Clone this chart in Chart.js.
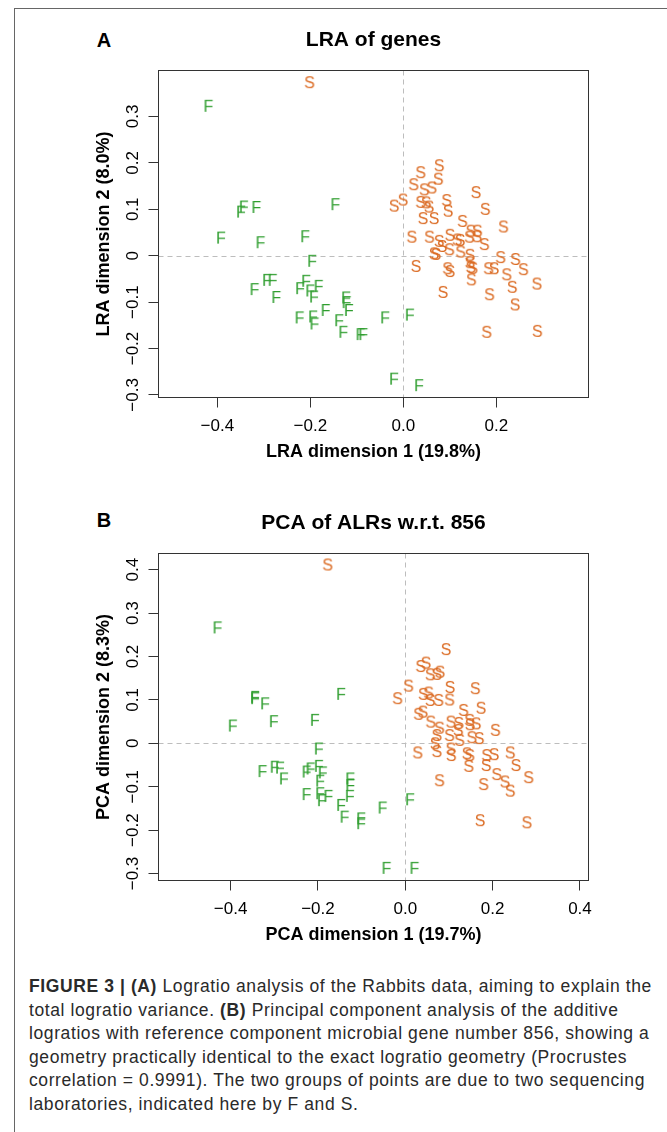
<!DOCTYPE html>
<html>
<head>
<meta charset="utf-8">
<title>Figure 3 - LRA and PCA of the Rabbits data</title>
<script src="https://cdn.jsdelivr.net/npm/chart.js@4.4.1/dist/chart.umd.min.js"></script>
<style>
  body { margin: 0; background: #fff; }
  #page { position: relative; width: 667px; height: 1132px; overflow: hidden; font-family: "Liberation Sans", Arial, sans-serif; }
  #frame { position: absolute; left: 14px; top: 8px; width: 800px; height: 1300px; border-left: 1px solid #666; border-top: 1px solid #666; }
  .panel { position: absolute; left: 0; }
  .tag { position: absolute; left: 104px; transform: translate(-50%, -50%); font-weight: bold; font-size: 20px; color: #000; }
  #caption { position: absolute; left: 29px; top: 975px; font-size: 17.5px; letter-spacing: 0.6px; line-height: 23.6px; color: #2a2a2a; white-space: nowrap; }
</style>
</head>
<body>
<div id="page">
  <div id="frame"></div>
  <div class="tag" style="top:40px">A</div>
  <div class="tag" style="top:520px">B</div>
  <canvas id="lra" class="panel" style="top:0" width="667" height="470"></canvas>
  <canvas id="pca" class="panel" style="top:483px" width="667" height="470"></canvas>
  <div id="caption">
    <b>FIGURE 3 | (A)</b> Logratio analysis of the Rabbits data, aiming to explain the<br>
    total logratio variance. <b>(B)</b> Principal component analysis of the additive<br>
    logratios with reference component microbial gene number 856, showing a<br>
    geometry practically identical to the exact logratio geometry (Procrustes<br>
    correlation = 0.9991). The two groups of points are due to two sequencing<br>
    laboratories, indicated here by F and S.
  </div>
</div>

<script>
// ---- data ----
// panel A: LRA of genes, lab F
const lraFx = [-0.419, -0.343, -0.349, -0.316, -0.146, -0.392, -0.307, -0.211, -0.196, -0.293, -0.281,
  -0.320, -0.273, -0.209, -0.222, -0.200, -0.182, -0.192, -0.123, -0.122, -0.117, -0.167, -0.223,
  -0.194, -0.191, -0.138, -0.129, -0.092, -0.086, -0.039, 0.014, -0.020, 0.034];
const lraFy = [0.323, 0.106, 0.095, 0.105, 0.111, 0.039, 0.029, 0.042, -0.011, -0.052, -0.052,
  -0.072, -0.089, -0.054, -0.070, -0.075, -0.065, -0.088, -0.090, -0.100, -0.117, -0.117, -0.133,
  -0.131, -0.146, -0.139, -0.164, -0.169, -0.169, -0.133, -0.127, -0.265, -0.279];
// panel A: lab S
const lraSx = [-0.202, 0.077, 0.037, 0.075, 0.022, 0.045, 0.061, 0.156, -0.020, -0.001, 0.037, 0.049,
  0.055, 0.093, 0.096, 0.176, 0.042, 0.066, 0.127, 0.215, 0.018, 0.056, 0.077, 0.100, 0.116, 0.122,
  0.145, 0.159, 0.142, 0.158, 0.174, 0.083, 0.066, 0.070, 0.099, 0.123, 0.143, 0.027, 0.095, 0.100,
  0.143, 0.145, 0.149, 0.209, 0.241, 0.258, 0.183, 0.195, 0.222, 0.146, 0.234, 0.287, 0.085, 0.185,
  0.240, 0.179, 0.288];
const lraSy = [0.374, 0.195, 0.180, 0.166, 0.154, 0.143, 0.147, 0.137, 0.108, 0.121, 0.116, 0.115,
  0.106, 0.120, 0.097, 0.101, 0.081, 0.081, 0.075, 0.063, 0.041, 0.041, 0.032, 0.045, 0.035, 0.034,
  0.054, 0.054, 0.041, 0.042, 0.025, 0.021, 0.005, 0.004, 0.014, 0.009, 0.002, -0.022, -0.027, -0.033,
  -0.014, -0.024, -0.026, -0.003, -0.007, -0.029, -0.027, -0.027, -0.040, -0.051, -0.067, -0.060, -0.078, -0.083,
  -0.105, -0.164, -0.162];

// panel B: PCA of ALRs, lab F
const pcaFx = [-0.430, -0.344, -0.344, -0.321, -0.147, -0.395, -0.301, -0.207, -0.198, -0.327, -0.299,
  -0.287, -0.278, -0.226, -0.217, -0.198, -0.189, -0.195, -0.126, -0.126, -0.127, -0.226, -0.195,
  -0.191, -0.176, -0.147, -0.139, -0.101, -0.101, -0.052, 0.011, -0.043, 0.021];
const pcaFy = [0.267, 0.107, 0.104, 0.092, 0.114, 0.041, 0.051, 0.054, -0.012, -0.064, -0.054,
  -0.056, -0.081, -0.065, -0.058, -0.052, -0.067, -0.086, -0.081, -0.096, -0.121, -0.117, -0.115,
  -0.131, -0.121, -0.142, -0.169, -0.173, -0.184, -0.148, -0.129, -0.287, -0.287];
// panel B: lab S
const pcaSx = [-0.178, 0.093, 0.035, 0.047, 0.057, 0.072, 0.079, 0.007, -0.018, 0.041, 0.053, 0.057,
  0.076, 0.102, 0.101, 0.160, 0.173, 0.030, 0.040, 0.058, 0.078, 0.104, 0.122, 0.133, 0.147, 0.148,
  0.162, 0.206, 0.072, 0.101, 0.121, 0.152, 0.169, 0.124, 0.068, 0.072, 0.104, 0.105, 0.028, 0.141,
  0.147, 0.145, 0.186, 0.203, 0.185, 0.240, 0.253, 0.209, 0.228, 0.240, 0.282, 0.078, 0.179, 0.171,
  0.278];
const pcaSy = [0.412, 0.217, 0.178, 0.186, 0.159, 0.160, 0.165, 0.133, 0.104, 0.114, 0.117, 0.100,
  0.100, 0.130, 0.101, 0.127, 0.082, 0.068, 0.073, 0.050, 0.036, 0.050, 0.047, 0.077, 0.054, 0.044,
  0.046, 0.031, 0.019, 0.019, 0.031, 0.014, 0.012, 0.008, 0.000, -0.018, -0.012, -0.027, -0.021, -0.023,
  -0.027, -0.052, -0.027, -0.025, -0.050, -0.021, -0.050, -0.071, -0.088, -0.109, -0.078, -0.085, -0.094, -0.177,
  -0.182];

// axis ticks
const lraXTicks = [-0.4, -0.2, 0, 0.2];
const lraXLabels = ['\u22120.4', '\u22120.2', '0.0', '0.2'];
const lraYTicks = [-0.3, -0.2, -0.1, 0, 0.1, 0.2, 0.3];
const lraYLabels = ['\u22120.3', '\u22120.2', '\u22120.1', '0', '0.1', '0.2', '0.3'];
const pcaXTicks = [-0.4, -0.2, 0, 0.2, 0.4];
const pcaXLabels = ['\u22120.4', '\u22120.2', '0.0', '0.2', '0.4'];
const pcaYTicks = [-0.3, -0.2, -0.1, 0, 0.1, 0.2, 0.3, 0.4];
const pcaYLabels = ['\u22120.3', '\u22120.2', '\u22120.1', '0', '0.1', '0.2', '0.3', '0.4'];

// axis limits (plot region of each panel)
const lraXRange = [-0.5265, 0.3983];
const lraYRange = [-0.3056, 0.3991];
const pcaXRange = [-0.5651, 0.4195];
const pcaYRange = [-0.3161, 0.4373];

const FONT = '"Liberation Sans", Arial, sans-serif';
const GREEN = '#2f9e2f';
const ORANGE = '#db6a22';

// letters used as plotting symbols
function letterSprite(ch, color) {
    const c = document.createElement('canvas');
    c.width = 16;
    c.height = 18;
    const g = c.getContext('2d');
    g.font = '16px ' + FONT;
    g.fillStyle = color;
    g.textAlign = 'center';
    g.textBaseline = 'alphabetic';
    g.fillText(ch, 8, 9 + 5.7);
    return c;
}

const zipPoints = (xs, ys) => xs.map((x, i) => ({ x: x, y: ys[i] }));

// dashed lines through the origin
const zeroLines = {
    id: 'zeroLines',
    beforeDatasetsDraw(chart) {
        const { ctx, chartArea: a, scales: { x, y } } = chart;
        const px = Math.round(x.getPixelForValue(0)) + 0.5;
        const py = Math.round(y.getPixelForValue(0)) + 0.5;
        ctx.save();
        ctx.strokeStyle = '#bdbdbd';
        ctx.lineWidth = 1;
        ctx.setLineDash([5, 4]);
        ctx.beginPath();
        ctx.moveTo(px, a.top);
        ctx.lineTo(px, a.bottom);
        ctx.moveTo(a.left, py);
        ctx.lineTo(a.right, py);
        ctx.stroke();
        ctx.restore();
    }
};

// box round the plot region, like R's box()
const plotBox = {
    id: 'plotBox',
    afterDraw(chart) {
        const { ctx, chartArea: a } = chart;
        ctx.save();
        ctx.strokeStyle = '#333';
        ctx.lineWidth = 1;
        ctx.strokeRect(a.left, a.top, a.right - a.left, a.bottom - a.top);
        ctx.restore();
    }
};

function makePanel(id, title, xTitle, yTitle, fPts, sPts, xRange, yRange, xTicks, xLabels, yTicks, yLabels) {
    const tickGrid = { drawOnChartArea: false, drawTicks: true, tickLength: 10, color: '#333', lineWidth: 1 };
    return new Chart(document.getElementById(id), {
        type: 'scatter',
        data: {
            datasets: [
                { label: 'F', data: fPts, pointStyle: letterSprite('F', GREEN), pointRadius: 6 },
                { label: 'S', data: sPts, pointStyle: letterSprite('S', ORANGE), pointRadius: 6 }
            ]
        },
        options: {
            responsive: false,
            animation: false,
            devicePixelRatio: 1,
            layout: { padding: { top: 0, left: 0, right: 78.5, bottom: 0 } },
            plugins: {
                legend: { display: false },
                tooltip: { enabled: false },
                title: {
                    display: true,
                    text: title,
                    fullSize: false,
                    color: '#000',
                    font: { family: FONT, size: 21, weight: 'bold' },
                    padding: { top: 27.4, bottom: 17.9 }
                }
            },
            scales: {
                x: {
                    type: 'linear',
                    min: xRange[0],
                    max: xRange[1],
                    border: { display: false },
                    grid: tickGrid,
                    afterBuildTicks: (s) => { s.ticks = xTicks.map((v) => ({ value: v })); },
                    afterFit: (s) => { s.height = 72.5; },
                    ticks: {
                        color: '#000',
                        padding: 9,
                        maxRotation: 0,
                        font: { family: FONT, size: 17 },
                        callback: (v, i) => xLabels[i]
                    },
                    title: {
                        display: true,
                        text: xTitle,
                        color: '#000',
                        font: { family: FONT, size: 18, weight: 'bold' },
                        padding: { top: 0, bottom: 7.2 }
                    }
                },
                y: {
                    type: 'linear',
                    min: yRange[0],
                    max: yRange[1],
                    border: { display: false },
                    grid: tickGrid,
                    afterBuildTicks: (s) => { s.ticks = yTicks.map((v) => ({ value: v })); },
                    afterFit: (s) => { s.width = 158.5; },
                    ticks: {
                        color: '#000',
                        padding: -1.5,
                        minRotation: 90,
                        maxRotation: 90,
                        crossAlign: 'center',
                        font: { family: FONT, size: 17 },
                        callback: (v, i) => yLabels[i]
                    },
                    title: {
                        display: true,
                        text: yTitle,
                        color: '#000',
                        font: { family: FONT, size: 18, weight: 'bold' },
                        padding: { top: 93.5, bottom: 0 }
                    }
                }
            }
        },
        plugins: [zeroLines, plotBox]
    });
}

makePanel('lra', 'LRA of genes', 'LRA dimension 1 (19.8%)', 'LRA dimension 2 (8.0%)',
    zipPoints(lraFx, lraFy), zipPoints(lraSx, lraSy), lraXRange, lraYRange,
    lraXTicks, lraXLabels, lraYTicks, lraYLabels);

makePanel('pca', 'PCA of ALRs w.r.t. 856', 'PCA dimension 1 (19.7%)', 'PCA dimension 2 (8.3%)',
    zipPoints(pcaFx, pcaFy), zipPoints(pcaSx, pcaSy), pcaXRange, pcaYRange,
    pcaXTicks, pcaXLabels, pcaYTicks, pcaYLabels);
</script>
</body>
</html>
